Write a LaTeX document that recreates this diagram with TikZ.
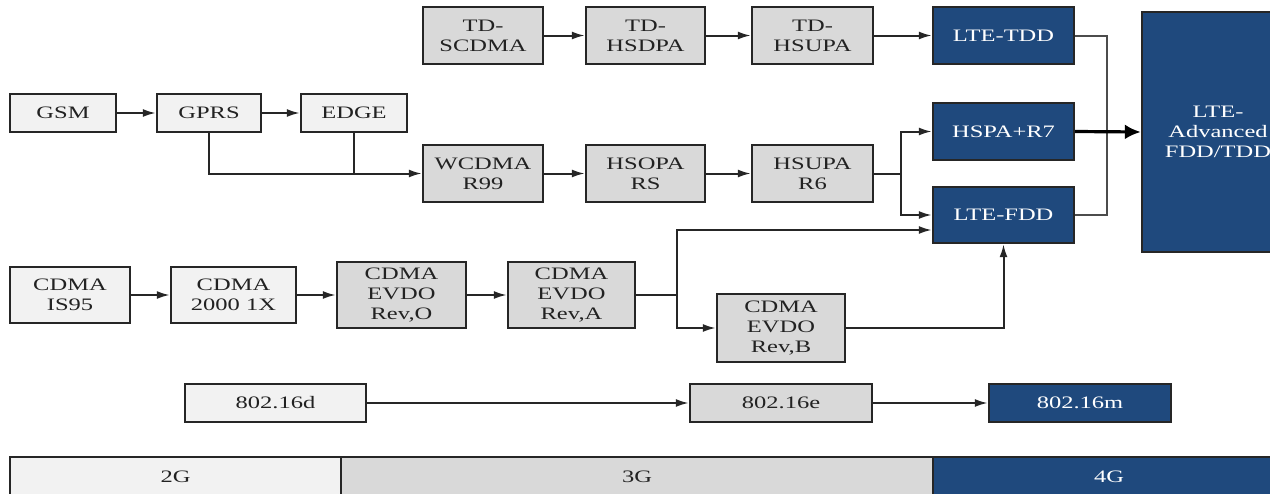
\documentclass[tikz,border=0pt]{standalone}
\usepackage{fontspec}
\setmainfont{Liberation Serif}[FakeStretch=1.4]
\usepackage{tikz}
\usetikzlibrary{arrows.meta}
\definecolor{gen2}{HTML}{F2F2F2}
\definecolor{gen3}{HTML}{D9D9D9}
\definecolor{gen4}{HTML}{1F497D}
\definecolor{ink}{HTML}{222222}
\tikzset{
  techbox/.style={rectangle, draw=black!85, line width=2.4pt, align=center, inner sep=0pt,
    text=ink, font={\fontsize{17.5}{20}\selectfont}},
  gen2box/.style={techbox, fill=gen2},
  gen3box/.style={techbox, fill=gen3},
  gen4box/.style={techbox, fill=gen4, text=white},
  wire/.style={line width=2pt, draw=black!85},
  link/.style={wire, -{Latex[length=13pt,width=8pt]}},
  biglink/.style={line width=3.2pt, -{Latex[length=16pt,width=15pt]}}
}

\begin{document}
\begin{tikzpicture}[x=1pt,y=-1pt]
  \clip (0,0) rectangle (1270,493);
  \foreach \x/\y/\w/\h/\name/\lab in {
    63/113/106/38/GSM/gsm,
    209/113/104/38/GPRS/gprs,
    354/113/106/38/EDGE/edge,
    70/295/120/56/{CDMA\\IS95}/is95,
    233.5/295/125/56/{CDMA\\2000 1X}/cdx,
    275.5/403/181/38/802.16d/wd,
    175.5/477/331/40/2G/g2%
  } {
    \node[gen2box, minimum width=\w pt, minimum height=\h pt] (\lab) at (\x, \y) {\name};
  }
  \foreach \x/\y/\w/\h/\name/\lab in {
    483/35.5/120/57/{TD-\\SCDMA}/tdsc,
    645.5/35.5/119/57/{TD-\\HSDPA}/tdhsd,
    812.5/35.5/121/57/{TD-\\HSUPA}/tdhsu,
    483/173.5/120/57/{WCDMA\\R99}/wcdma,
    645.5/173.5/119/57/{HSOPA\\RS}/hsopa,
    812.5/173.5/121/57/{HSUPA\\R6}/hsupa,
    401.5/295/129/66/{CDMA\\EVDO\\Rev,O}/revo,
    571.5/295/127/66/{CDMA\\EVDO\\Rev,A}/reva,
    781/328/128/68/{CDMA\\EVDO\\Rev,B}/revb,
    781/403/182/38/802.16e/we,
    637/477/592/40/3G/g3%
  } {
    \node[gen3box, minimum width=\w pt, minimum height=\h pt] (\lab) at (\x, \y) {\name};
  }
  \foreach \x/\y/\w/\h/\name/\lab in {
    1003.5/35.5/141/57/LTE-TDD/ltetdd,
    1003.5/131.5/141/57/HSPA+R7/hspa,
    1003.5/215/141/56/LTE-FDD/ltefdd,
    1080/403/182/38/802.16m/wm,
    1218/132/152/240/{LTE-\\Advanced\\FDD/TDD}/ltea,
    1109/477/352/40/4G/g4%
  } {
    \node[gen4box, minimum width=\w pt, minimum height=\h pt] (\lab) at (\x, \y) {\name};
  }
  \coordinate (jh) at (901, 173.5);
  \coordinate (ja) at (677, 295);
  \coordinate (jr) at (1107, 131.5);
  \begin{scope}
    \foreach \u/\v in {
      gsm/gprs, gprs/edge,
      tdsc/tdhsd, tdhsd/tdhsu, tdhsu/ltetdd,
      wcdma/hsopa, hsopa/hsupa,
      is95/cdx, cdx/revo, revo/reva,
      wd/we, we/wm%
    }{
      \draw[link] (\u) -- (\v);
    }
    \draw[link] (gprs.south) |- (wcdma.west);
    \draw[wire] (edge.south) -- (edge.south |- wcdma.west);
    \draw[wire] (hsupa.east) -- (jh);
    \draw[link] (jh) |- (hspa.west);
    \draw[link] (jh) |- (ltefdd.west);
    \draw[wire] (reva.east) -- (ja);
    \draw[link] (ja) |- ([yshift=-15pt]ltefdd.west);
    \draw[link] (ja) |- (revb.west);
    \draw[link] (revb.east) -| (ltefdd.south);
    \draw[wire, draw=black!70] (ltetdd.east) -| (jr) |- (ltefdd.east);
    \draw[biglink] (hspa.east) -- (ltea.west);
  \end{scope}
\end{tikzpicture}
\end{document}
